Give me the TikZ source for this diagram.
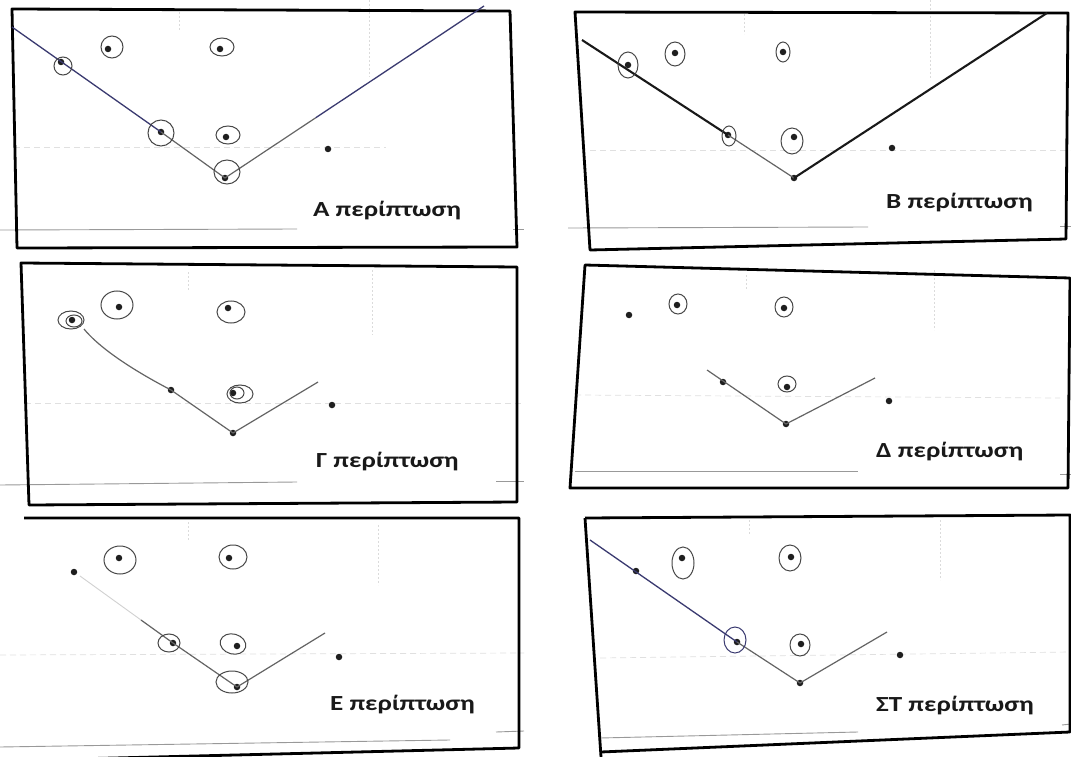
\documentclass[tikz,border=0pt]{standalone}
\usepackage{fontspec}
\newfontfamily\labfont{Carlito}
\usetikzlibrary{calc}
\definecolor{inkblue}{RGB}{58,58,112}
\definecolor{inkgray}{RGB}{100,100,100}
\newcommand{\caselabel}[1]{\scalebox{1.26}[1]{#1}}
\tikzset{
  frame/.style={line width=2.8pt, black, line join=round},
  vline/.style={line width=1.2pt, inkgray},
  bline/.style={line width=1.3pt, inkblue},
  kline/.style={line width=2.1pt, black!90},
  ring/.style={line width=1pt, black!72},
  pt/.style={circle, fill=black!88, draw=none, inner sep=0pt, minimum size=6.5pt},
  lab/.style={font=\labfont\bfseries\fontsize{21.5}{21.5}\selectfont, anchor=west, inner sep=0pt, text=black!90},
  scan/.style={line width=0.9pt, black!40},
  faint/.style={line width=0.7pt, black!12, dash pattern=on 6pt off 4pt},
  vfaint/.style={line width=0.7pt, black!14, dash pattern=on 2pt off 2pt}
}
\begin{document}
\begin{tikzpicture}[x=1pt, y=-1pt]
\useasboundingbox (0,0) rectangle (1071,757);
\fill[white] (0,0) rectangle (1071,757);

% ---------- faint guide lines printed on the sheet ----------
\draw[faint] (14,147) -- (386,147);
\draw[vfaint] (179,12) -- (179,30);
\draw[vfaint] (369,0) -- (369,77);
\draw[scan] (0,230) -- (297,229);
\draw[scan] (513,229) -- (524,229);
\draw[faint] (590,150) -- (1070,150);
\draw[vfaint] (744,14) -- (744,34);
\draw[vfaint] (930,0) -- (930,80);
\draw[scan] (568,228) -- (868,227);
\draw[scan] (1060,226) -- (1071,226);

\draw[faint] (25,403) -- (524,403);
\draw[vfaint] (188,272) -- (188,290);
\draw[vfaint] (372,270) -- (372,335);
\draw[scan] (0,485) -- (297,482);
\draw[scan] (496,481) -- (524,481);
\draw[faint] (575,395) -- (1060,398);
\draw[vfaint] (746,275) -- (746,290);
\draw[vfaint] (934,270) -- (934,330);
\draw[scan] (575,471) -- (858,471);
\draw[scan] (1060,474) -- (1071,474);

\draw[faint] (0,655) -- (524,653);
\draw[vfaint] (188,522) -- (188,540);
\draw[vfaint] (378,525) -- (378,585);
\draw[scan] (0,747) -- (450,740);
\draw[scan] (496,732) -- (524,731);
\draw[faint] (600,658) -- (1071,652);
\draw[vfaint] (749,520) -- (749,535);
\draw[vfaint] (940,520) -- (940,580);
\draw[scan] (600,738) -- (858,732);
\draw[scan] (1062,725) -- (1071,724);

% ================= Panel A =================
\draw[frame] (12,9) -- (510,11) -- (517,247) -- (17,248) -- cycle;
\node[pt] (a1) at (61,62) {};
\node[pt] (a2) at (108,49) {};
\node[pt] (a3) at (220,49) {};
\node[pt] (a4) at (161,132) {};
\node[pt] (a5) at (226,137) {};
\node[pt] (a6) at (225,178) {};
\node[pt] (a7) at (328,149) {};
\coordinate (A0) at (12,27);
\coordinate (A9) at (484,6);
\draw[bline] (A0) -- (a4.center);
\draw[vline] (a4.center) -- (a6.center) -- ($(a6)!0.35!(A9)$);
\draw[bline] ($(a6)!0.35!(A9)$) -- (A9);
\draw[ring] (63,66) ellipse [x radius=9, y radius=9];
\draw[ring] (112,47) ellipse [x radius=11, y radius=11];
\draw[ring] (222,47) ellipse [x radius=12, y radius=9];
\draw[ring] (161,133) ellipse [x radius=13, y radius=13];
\draw[ring] (228,135) ellipse [x radius=12, y radius=9];
\draw[ring] (227,172) ellipse [x radius=13, y radius=12];
\node[lab] (la) at (313,211) {\caselabel{Α περίπτωση}};

% ================= Panel B =================
\draw[frame] (575,12) -- (1068,13) -- (1066,239) -- (590,250) -- cycle;
\node[pt] (b1) at (628,65) {};
\node[pt] (b2) at (675,53) {};
\node[pt] (b3) at (783,52) {};
\node[pt] (b4) at (728,135) {};
\node[pt] (b5) at (794,137) {};
\node[pt] (b6) at (794,178) {};
\node[pt] (b7) at (892,148) {};
\coordinate (B0) at (582,40);
\coordinate (B9) at (1047,13);
\draw[kline] (B0) -- (b4.center);
\draw[vline] (b4.center) -- (b6.center);
\draw[kline] (b6.center) -- (B9);
\draw[ring] (628,65) ellipse [x radius=10, y radius=13];
\draw[ring] (675,54) ellipse [x radius=10, y radius=12];
\draw[ring] (783,52) ellipse [x radius=7, y radius=10];
\draw[ring] (729,136) ellipse [x radius=7, y radius=10];
\draw[ring] (792,141) ellipse [x radius=11, y radius=13];
\node[lab] (lb) at (886,203) {\caselabel{Β περίπτωση}};

% ================= Panel Γ =================
\draw[frame] (21,263) -- (517,267) -- (517,502) -- (29,505) -- cycle;
\node[pt] (g1) at (72,320) {};
\node[pt] (g2) at (119,307) {};
\node[pt] (g3) at (228,308) {};
\node[pt] (g4) at (171,390) {};
\node[pt] (g5) at (233,393) {};
\node[pt] (g6) at (233,433) {};
\node[pt] (g7) at (332,405) {};
\coordinate (G0) at (84,329);
\coordinate (G9) at (318,382);
\draw[vline] (G0) .. controls (97,345) and (125,366) .. (g4.center) -- (g6.center) -- (G9);
\draw[ring] (71,320) ellipse [x radius=13, y radius=9];
\draw[ring] (74,321) ellipse [x radius=8, y radius=6];
\draw[ring] (117,305) ellipse [x radius=16, y radius=14];
\draw[ring] (231,312) ellipse [x radius=14, y radius=11];
\draw[ring] (240,394) ellipse [x radius=13, y radius=9];
\draw[ring] (237,393) ellipse [x radius=7, y radius=6];
\node[lab] (lg) at (316,462) {\caselabel{Γ περίπτωση}};

% ================= Panel Δ =================
\draw[frame] (585,265) -- (1070,278) -- (1068,488) -- (570,488) -- cycle;
\node[pt] (d1) at (629,315) {};
\node[pt] (d2) at (677,305) {};
\node[pt] (d3) at (784,308) {};
\node[pt] (d4) at (723,382) {};
\node[pt] (d5) at (787,387) {};
\node[pt] (d6) at (786,424) {};
\node[pt] (d7) at (889,401) {};
\coordinate (D0) at (707,370);
\coordinate (D9) at (875,378);
\draw[vline] (D0) -- (d6.center) -- (D9);
\draw[ring] (678,304) ellipse [x radius=9, y radius=10];
\draw[ring] (784,307) ellipse [x radius=9, y radius=10];
\draw[ring] (787,384) ellipse [x radius=9, y radius=8];
\node[lab] (ld) at (876,452) {\caselabel{Δ περίπτωση}};

% ================= Panel Ε =================
\draw[frame] (24,518) -- (519,518) -- (519,748) -- (33,760);
\node[pt] (e1) at (74,572) {};
\node[pt] (e2) at (119,558) {};
\node[pt] (e3) at (229,558) {};
\node[pt] (e4) at (173,643) {};
\node[pt] (e5) at (237,646) {};
\node[pt] (e6) at (237,687) {};
\node[pt] (e7) at (339,657) {};
\coordinate (E0) at (80,576);
\coordinate (E1) at (141,620);
\coordinate (E9) at (325,633);
\draw[line width=0.9pt, black!18] (E0) -- (E1);
\draw[vline] (E1) -- (e4.center) -- (e6.center) -- (E9);
\draw[ring] (120,560) ellipse [x radius=16, y radius=14];
\draw[ring] (233,557) ellipse [x radius=14, y radius=12];
\draw[ring] (169,643) ellipse [x radius=11, y radius=9];
\draw[ring, rotate around={-15:(233,644)}] (233,644) ellipse [x radius=13, y radius=10];
\draw[ring] (232,682) ellipse [x radius=16, y radius=11];
\node[lab] (le) at (330,705) {\caselabel{Ε περίπτωση}};

% ================= Panel ΣΤ =================
\draw[frame] (585,518) -- (1070,515) -- (1070,732) -- (601,752);
\draw[frame] (585,518) -- (601,757);
\node[pt] (s1) at (636,571) {};
\node[pt] (s2) at (682,558) {};
\node[pt] (s3) at (791,557) {};
\node[pt] (s4) at (737,642) {};
\node[pt] (s5) at (801,644) {};
\node[pt] (s6) at (800,683) {};
\node[pt] (s7) at (900,655) {};
\coordinate (S0) at (590,540);
\coordinate (S9) at (887,632);
\draw[bline] (S0) -- (s4.center);
\draw[vline] (s4.center) -- (s6.center) -- (S9);
\draw[ring] (683,563) ellipse [x radius=11, y radius=16];
\draw[ring] (790,558) ellipse [x radius=11, y radius=13];
\draw[ring, inkblue] (735,640) ellipse [x radius=11, y radius=13];
\draw[ring] (800,645) ellipse [x radius=10, y radius=11];
\node[lab] (ls) at (876,706) {\caselabel{ΣΤ περίπτωση}};
\end{tikzpicture}
\end{document}
